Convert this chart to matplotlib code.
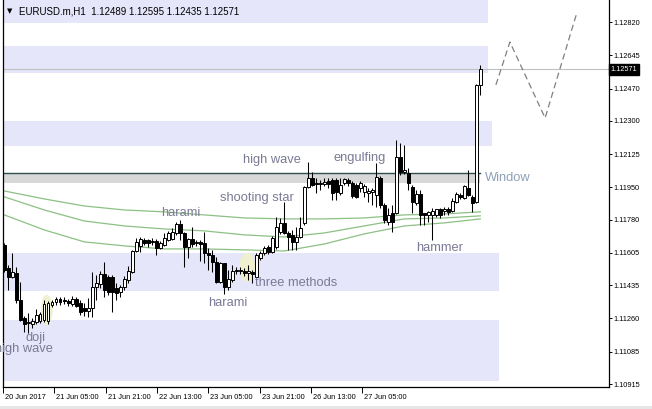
import matplotlib
matplotlib.use("Agg")
from matplotlib import pyplot as plt
from matplotlib.patches import Ellipse, Rectangle
from matplotlib.transforms import ScaledTranslation, blended_transform_factory
import numpy as np

# H1 candles
opens = [
    1.11647, 1.11526, 1.11479, 1.11500, 1.11357, 1.11263, 1.11236, 1.11231, 1.11242, 1.11247,
    1.11252, 1.11247, 1.11331, 1.11347, 1.11363, 1.11357, 1.11352, 1.11336, 1.11363, 1.11342,
    1.11315, 1.11299, 1.11315, 1.11426, 1.11442, 1.11494, 1.11479, 1.11479, 1.11421, 1.11400,
    1.11426, 1.11463, 1.11505, 1.11615, 1.11642, 1.11673, 1.11673, 1.11668, 1.11668, 1.11631,
    1.11647, 1.11673, 1.11679, 1.11710, 1.11758, 1.11710, 1.11636, 1.11679, 1.11663, 1.11663,
    1.11658, 1.11605, 1.11594, 1.11558, 1.11452, 1.11552, 1.11426, 1.11463, 1.11510, 1.11510,
    1.11510, 1.11500, 1.11505, 1.11479, 1.11579, 1.11605, 1.11636, 1.11610, 1.11636, 1.11715,
    1.11763, 1.11710, 1.11700, 1.11663, 1.11689, 1.11763, 1.11952, 1.11999, 1.11973, 1.11968,
    1.11968, 1.11984, 1.11989, 1.11989, 1.11921, 1.11973, 1.11989, 1.11973, 1.11963, 1.11947,
    1.11926, 1.11921, 1.11926, 1.11910, 1.11999, 1.11857, 1.11768, 1.11815, 1.11815, 1.12110,
    1.12031, 1.12026, 1.11952, 1.11868, 1.11915, 1.11815, 1.11805, 1.11805, 1.11805, 1.11836,
    1.11826, 1.11836, 1.11826, 1.11873, 1.11910, 1.11894, 1.11947, 1.11900, 1.11873, 1.12489,
]
closes = [
    1.11516, 1.11479, 1.11505, 1.11357, 1.11252, 1.11231, 1.11242, 1.11247, 1.11278, 1.11284,
    1.11336, 1.11342, 1.11347, 1.11363, 1.11347, 1.11352, 1.11342, 1.11363, 1.11326, 1.11294,
    1.11299, 1.11315, 1.11426, 1.11447, 1.11494, 1.11410, 1.11400, 1.11400, 1.11394, 1.11426,
    1.11468, 1.11510, 1.11615, 1.11663, 1.11679, 1.11658, 1.11658, 1.11663, 1.11631, 1.11658,
    1.11684, 1.11710, 1.11715, 1.11758, 1.11710, 1.11636, 1.11679, 1.11652, 1.11658, 1.11652,
    1.11605, 1.11594, 1.11558, 1.11452, 1.11552, 1.11426, 1.11468, 1.11510, 1.11516, 1.11516,
    1.11500, 1.11510, 1.11494, 1.11594, 1.11605, 1.11631, 1.11610, 1.11684, 1.11742, 1.11763,
    1.11710, 1.11689, 1.11663, 1.11689, 1.11737, 1.11952, 1.11999, 1.11963, 1.11968, 1.11973,
    1.11978, 1.11968, 1.11921, 1.11926, 1.11963, 1.11994, 1.11973, 1.11905, 1.11900, 1.11973,
    1.11957, 1.11931, 1.11936, 1.12005, 1.11857, 1.11779, 1.11805, 1.11768, 1.12110, 1.12031,
    1.12042, 1.11973, 1.11873, 1.11915, 1.11805, 1.11805, 1.11821, 1.11826, 1.11836, 1.11805,
    1.11836, 1.11821, 1.11879, 1.11915, 1.11900, 1.11957, 1.11910, 1.11868, 1.12489, 1.12571,
]
highs = [
    1.11658, 1.11542, 1.11605, 1.11531, 1.11452, 1.11273, 1.11289, 1.11263, 1.11310, 1.11294,
    1.11357, 1.11352, 1.11357, 1.11373, 1.11373, 1.11373, 1.11363, 1.11378, 1.11373, 1.11357,
    1.11342, 1.11368, 1.11505, 1.11489, 1.11510, 1.11558, 1.11489, 1.11489, 1.11447, 1.11436,
    1.11484, 1.11537, 1.11621, 1.11684, 1.11689, 1.11684, 1.11679, 1.11684, 1.11679, 1.11668,
    1.11710, 1.11721, 1.11737, 1.11768, 1.11779, 1.11715, 1.11684, 1.11742, 1.11673, 1.11673,
    1.11715, 1.11631, 1.11621, 1.11584, 1.11558, 1.11552, 1.11516, 1.11542, 1.11531, 1.11531,
    1.11526, 1.11542, 1.11516, 1.11605, 1.11615, 1.11642, 1.11647, 1.11694, 1.11794, 1.11789,
    1.11873, 1.11721, 1.11726, 1.11742, 1.11794, 1.11957, 1.12084, 1.12031, 1.11999, 1.11989,
    1.11999, 1.11999, 1.11999, 1.11999, 1.11999, 1.11999, 1.11999, 1.11984, 1.11973, 1.11984,
    1.11968, 1.11947, 1.11947, 1.12078, 1.12010, 1.11868, 1.11842, 1.11857, 1.12199, 1.12184,
    1.12173, 1.12052, 1.11963, 1.11936, 1.11936, 1.11815, 1.11826, 1.11842, 1.11836, 1.11842,
    1.11847, 1.11847, 1.11894, 1.11926, 1.11921, 1.11963, 1.12042, 1.11910, 1.12494, 1.12595,
]
lows = [
    1.11505, 1.11410, 1.11473, 1.11342, 1.11247, 1.11189, 1.11184, 1.11210, 1.11231, 1.11236,
    1.11242, 1.11231, 1.11321, 1.11331, 1.11331, 1.11336, 1.11326, 1.11326, 1.11321, 1.11278,
    1.11273, 1.11268, 1.11268, 1.11357, 1.11421, 1.11373, 1.11384, 1.11294, 1.11357, 1.11373,
    1.11410, 1.11447, 1.11500, 1.11610, 1.11610, 1.11647, 1.11636, 1.11647, 1.11594, 1.11626,
    1.11642, 1.11668, 1.11673, 1.11700, 1.11673, 1.11531, 1.11579, 1.11636, 1.11642, 1.11563,
    1.11552, 1.11516, 1.11505, 1.11447, 1.11447, 1.11389, 1.11410, 1.11452, 1.11494, 1.11494,
    1.11484, 1.11463, 1.11447, 1.11473, 1.11568, 1.11594, 1.11600, 1.11605, 1.11626, 1.11705,
    1.11705, 1.11621, 1.11621, 1.11621, 1.11684, 1.11752, 1.11947, 1.11957, 1.11921, 1.11936,
    1.11957, 1.11947, 1.11884, 1.11884, 1.11910, 1.11963, 1.11957, 1.11894, 1.11894, 1.11926,
    1.11900, 1.11873, 1.11857, 1.11847, 1.11842, 1.11763, 1.11752, 1.11715, 1.11810, 1.12015,
    1.12021, 1.11936, 1.11815, 1.11857, 1.11752, 1.11752, 1.11768, 1.11673, 1.11794, 1.11789,
    1.11805, 1.11805, 1.11821, 1.11868, 1.11889, 1.11889, 1.11905, 1.11821, 1.11868, 1.12435,
]

# moving averages, sampled every 10 bars
ma_bars = [0, 10, 20, 30, 40, 50, 60, 70, 80, 90, 100, 110, 119]
ma1 = [1.11931, 1.11889, 1.11852, 1.11831, 1.11821, 1.11805, 1.11789, 1.11784, 1.11784, 1.11789, 1.11805, 1.11810, 1.11821]
ma2 = [1.11900, 1.11831, 1.11773, 1.11747, 1.11731, 1.11721, 1.11700, 1.11689, 1.11710, 1.11747, 1.11784, 1.11789, 1.11800]
ma3 = [1.11805, 1.11726, 1.11663, 1.11642, 1.11626, 1.11626, 1.11621, 1.11615, 1.11652, 1.11705, 1.11747, 1.11763, 1.11784]

# projected path (dashed)
proj_bars = [122.9, 126.4, 135.2, 143.2]
proj_prices = [1.12489, 1.12715, 1.12315, 1.12873]

# zones: (low, high, last bar)
zone_lo = [1.12816, 1.12552, 1.12168, 1.11405, 1.10932]
zone_hi = [1.12990, 1.12694, 1.12299, 1.11605, 1.11252]
zone_end = [120.9, 120.9, 121.9, 123.7, 123.7]
window_lo, window_hi, window_end = 1.11975, 1.12028, 118.8

last_price = 1.12571
title = "EURUSD.m,H1  1.12489 1.12595 1.12435 1.12571"

y_ticks = [1.12820, 1.12645, 1.12470, 1.12300, 1.12125, 1.11950, 1.11780,
           1.11605, 1.11435, 1.11260, 1.11085, 1.10915]
x_tick_labels = ["20 Jun 2017", "21 Jun 05:00", "21 Jun 21:00", "22 Jun 13:00",
                 "23 Jun 05:00", "23 Jun 21:00", "26 Jun 13:00", "27 Jun 05:00"]
x_tick_pos = [-0.25, 12.5, 25.35, 38.2, 51.0, 63.85, 76.7, 89.5]

patterns = ["harami", "high wave", "engulfing", "shooting star", "three methods",
            "harami", "hammer", "doji", "high wave"]
pattern_bar = [44.2, 66.9, 88.9, 63.2, 72.9, 55.9, 108.9, 7.9, 4.9]
pattern_price = [1.11815, 1.12094, 1.12105, 1.11894, 1.11447, 1.11342, 1.11631, 1.11158, 1.11100]

FONT = ["Liberation Sans", "DejaVu Sans"]
LABEL_C = "#7A7A96"

fig = plt.figure(figsize=(6.52, 4.09), dpi=100)
ax = fig.add_axes([3 / 652, 22.5 / 409, 606 / 652, 386.5 / 409])
ax.set_xlim(-0.325, 151.175)
ax.set_ylim(1.10902, 1.12936)

# zones
for lo, hi, end in zip(zone_lo, zone_hi, zone_end):
    ax.fill_between([-2, end], lo, hi, color="#E6E6FA", lw=0, zorder=0)
ax.fill_between([-2, window_end], window_lo, window_hi, color="#D8D8D8", lw=0, zorder=0)
ax.plot([-2, window_end], [window_hi, window_hi], color="#2F4F4F", lw=1.0, zorder=1)

# current price line
ax.axhline(last_price, color="#C0C0C0", lw=0.8, zorder=1)

# highlight ellipses
ax.add_patch(Ellipse((10.6, 1.11305), 3.0, 0.00158, color="#EEF0D0", lw=0, zorder=1))
ax.add_patch(Ellipse((60.7, 1.11529), 4.0, 0.00153, color="#EEF0D0", lw=0, zorder=1))

# moving averages
for ma in (ma1, ma2, ma3):
    ax.plot(ma_bars, ma, color="#8CC084", lw=0.9, zorder=2)

# candles
o = np.array(opens)
c = np.array(closes)
idx = np.arange(len(o))
ax.vlines(idx, lows, highs, color="black", lw=0.75, zorder=3)
up = c >= o
body_lo = np.minimum(o, c)
body_h = np.maximum(np.abs(c - o), 0.000015)
ax.bar(idx[up], body_h[up], bottom=body_lo[up], width=0.6, color="white",
       edgecolor="black", lw=0.7, zorder=4)
ax.bar(idx[~up], body_h[~up], bottom=body_lo[~up], width=0.6, color="black",
       edgecolor="black", lw=0.7, zorder=4)

# projection
ax.plot(proj_bars, proj_prices, color="#808080", lw=0.9, ls=(0, (5, 3)), zorder=3)

# pattern labels
for txt, bx, py in zip(patterns, pattern_bar, pattern_price):
    ax.text(bx, py, txt, ha="center", va="center", fontsize=9.3, family=FONT,
            color=LABEL_C, zorder=5)
ax.text(120.2, 1.11999, "Window", ha="left", va="center", fontsize=9.3, family=FONT,
        color="#8FA0B8", zorder=5)

# axes style
for s in ("top",):
    ax.spines[s].set_visible(False)
for s in ("left", "right", "bottom"):
    ax.spines[s].set_linewidth(0.9)
ax.yaxis.tick_right()
ax.set_yticks(y_ticks)
ax.set_yticklabels(["%.5f" % v for v in y_ticks], fontsize=5.3, family=FONT)
ax.tick_params(axis="y", direction="out", length=2.5, width=0.7, pad=1)
ax.set_xticks(x_tick_pos)
ax.set_xticklabels(x_tick_labels, fontsize=5.3, family=FONT, ha="left")
ax.tick_params(axis="x", direction="out", length=4.5, width=0.7, pad=1)
for lab in ax.get_xticklabels():
    lab.set_transform(lab.get_transform() + ScaledTranslation(2 / 100, 0, fig.dpi_scale_trans))

# last price tag
tr = blended_transform_factory(ax.transAxes, ax.transData)
ax.text(1.003, last_price, "1.12571", transform=tr, ha="left", va="center",
        fontsize=5.3, family=FONT, color="white", clip_on=False, zorder=6,
        bbox=dict(boxstyle="square,pad=0.25", fc="black", ec="black"))

# chart title
fig.text(7 / 652, 1 - 11 / 409, "\u25bc", fontsize=5, family=["DejaVu Sans"],
         va="center", ha="left")
fig.text(19 / 652, 1 - 11 / 409, title, fontsize=7, family=FONT, va="center", ha="left")

fig.patches.append(Rectangle((0, 0), 1, 3 / 409, transform=fig.transFigure,
                             color="#E6E6E6", lw=0))

fig.savefig("out.png", dpi=100)
